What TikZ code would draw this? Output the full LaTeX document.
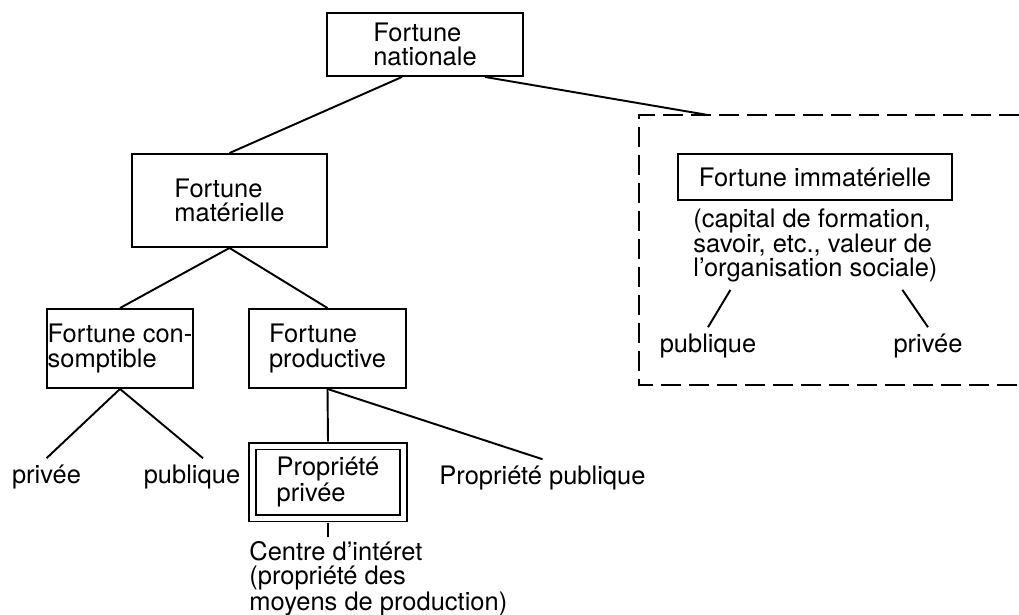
\documentclass[tikz,border=0pt]{standalone}
\usepackage{fontspec}
\setmainfont{TeX Gyre Heros}
\usepackage{tikz}
\usetikzlibrary{calc}
\tikzstyle{block} = [draw, rectangle, line width=1.1pt, align=left, inner sep=0pt]
\tikzstyle{doubleblock} = [block, double, double distance=1mm, outer sep=0.9mm]
\tikzstyle{txt} = [align=left]
\tikzstyle{link} = [draw, line width=1.1pt]
\tikzstyle{dashframe} = [draw, line width=1.1pt, dash pattern=on 4mm off 1.6mm]

\begin{document}
\begin{tikzpicture}[x=0.2mm,y=-0.2mm]
    \begin{scope}[font=\fontsize{14.5}{13.7}\selectfont]
    \useasboundingbox (0,0) rectangle (1019,614);

    % left tree
    \node (nat) at (425,44.5) [block, minimum width=39.2mm, minimum height=12.6mm] {Fortune\\nationale};
    \node (mat) at (229.5,200.5) [block, minimum width=39mm, minimum height=18.6mm] {Fortune\\matérielle};
    \node (cons) at (120,348.5) [block, minimum width=29.2mm, minimum height=15.8mm] {Fortune con-\\somptible};
    \node (prod) at (327.5,348.5) [block, minimum width=31.4mm, minimum height=15.8mm] {Fortune\\productive};
    \node (propriv) at (328,482) [doubleblock, minimum width=30.3mm, minimum height=14.4mm] {Propriété\\privée};

    \node (conspriv) at (46.5,483) [txt, anchor=base] {privée};
    \node (conspub) at (192,483) [txt, anchor=base] {publique};
    \node (proppub) at (542.5,484) [txt, anchor=base] {Propriété publique};
    \node (centre) at (249,541) [txt, anchor=north west, inner sep=0pt] {Centre d’intéret\\(propriété des\\moyens de production)};

    % right part
    \coordinate (framenw) at (639,115);
    \coordinate (framesw) at (639,385);
    \coordinate (frametop) at (708,115);
    \draw [dashframe] (1019,115) -- (framenw) -- (framesw) -- (1019,385);

    \node (immat) at (815,177) [block, minimum width=54.8mm, minimum height=9.2mm] {Fortune immatérielle};
    \node (immatdesc) at (693,208) [txt, anchor=north west, inner sep=0pt] {(capital de formation,\\savoir, etc., valeur de\\l’organisation sociale)};
    \node (immatpub) at (708,352) [txt, anchor=base] {publique};
    \node (immatpriv) at (928,352) [txt, anchor=base] {privée};

    % connectors
    \draw [link] ($(nat.south)+(-23,0)$) -- (mat.north);
    \draw [link] ($(nat.south)+(60,0)$) -- (frametop);
    \draw [link] (mat.south) -- (cons.north);
    \draw [link] (mat.south) -- (prod.north);
    \draw [link] (cons.south) -- (conspriv.north);
    \draw [link] (cons.south) -- ($(conspub.north)+(11,0)$);
    \draw [link] (prod.south) -- (propriv.north);
    \draw [link] (prod.south) -- (proppub.north);
    \draw [link, shorten >=0.8mm] (propriv.south) -- (propriv.south |- centre.north);
    \draw [link] ($(immatdesc.south)+(-85,7)$) -- (immatpub.north);
    \draw [link] ($(immatdesc.south)+(87,7)$) -- (immatpriv.north);

    \end{scope}
\end{tikzpicture}
\end{document}
